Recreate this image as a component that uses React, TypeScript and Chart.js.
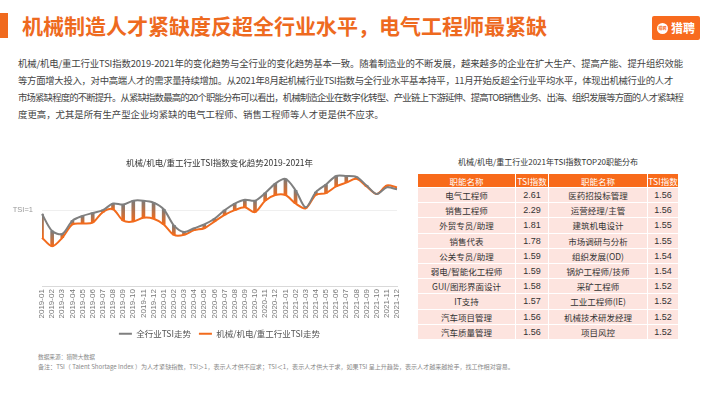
import React, { useEffect, useLayoutEffect, useRef } from "react";
import { Chart, registerables } from "chart.js";

Chart.register(...registerables);

const months: string[] = [
  "2019-01","2019-02","2019-03","2019-04","2019-05","2019-06","2019-07","2019-08","2019-09","2019-10","2019-11","2019-12",
  "2020-01","2020-02","2020-03","2020-04","2020-05","2020-06","2020-07","2020-08","2020-09","2020-10","2020-11","2020-12",
  "2021-01","2021-02","2021-03","2021-04","2021-05","2021-06","2021-07","2021-08","2021-09","2021-10","2021-11","2021-12",
];

const allIndustryTSI: number[] = [
  0.96, 0.78, 0.75, 0.89, 0.94, 0.97, 1.0, 1.07, 1.06, 1.1, 1.1, 1.08,
  1.01, 0.84, 0.77, 0.81, 0.85, 0.91, 1.0, 1.07, 1.11, 1.1, 1.18, 1.28,
  1.33, 1.21, 1.03, 1.19, 1.27, 1.36, 1.36, 1.35, 1.26, 1.17, 1.24, 1.22,
];

const machineryTSI: number[] = [
  0.71, 0.62, 0.71, 0.85, 0.86, 0.87, 0.98, 1.01, 0.89, 0.88, 0.92, 0.91,
  0.85, 0.74, 0.74, 0.79, 0.81, 0.88, 0.95, 1.0, 1.03, 0.98, 1.1, 1.16,
  1.16, 1.07, 1.02, 1.16, 1.18, 1.25, 1.29, 1.33, 1.25, 1.17, 1.26, 1.24,
];

const seriesNames: string[] = ["全行业TSI走势", "机械/机电/重工行业TSI走势"];
const yTickValues: number[] = [1];
const yTickLabels: string[] = ["TSI=1"];

const tableHeaders: string[] = ["职能名称", "TSI指数", "职能名称", "TSI指数"];
const leftRoles: string[] = ["电气工程师", "销售工程师", "外贸专员/助理", "销售代表", "公关专员/助理", "弱电/智能化工程师", "GUI/图形界面设计", "IT支持", "汽车项目管理", "汽车质量管理"];
const leftTSI: string[] = ["2.61", "2.29", "1.81", "1.78", "1.59", "1.59", "1.58", "1.57", "1.56", "1.56"];
const rightRoles: string[] = ["医药招投标管理", "运营经理/主管", "建筑机电设计", "市场调研与分析", "组织发展(OD)", "锅炉工程师/技师", "采矿工程师", "工业工程师(IE)", "机械技术研发经理", "项目风控"];
const rightTSI: string[] = ["1.56", "1.56", "1.55", "1.55", "1.54", "1.54", "1.52", "1.52", "1.52", "1.52"];

const paragraphLines: string[] = [
  "机械/机电/重工行业TSI指数2019-2021年的变化趋势与全行业的变化趋势基本一致。随着制造业的不断发展，越来越多的企业在扩大生产、提高产能、提升组织效能",
  "等方面增大投入，对中高端人才的需求量持续增加。从2021年8月起机械行业TSI指数与全行业水平基本持平，11月开始反超全行业平均水平，体现出机械行业的人才",
  "市场紧缺程度的不断提升。从紧缺指数最高的20个职能分布可以看出，机械制造企业在数字化转型、产业链上下游延伸、提高TOB销售业务、出海、组织发展等方面的人才紧缺程",
  "度更高，尤其是所有生产型企业均紧缺的电气工程师、销售工程师等人才更是供不应求。",
];
const sourceText = "数据来源：猎聘大数据";
const noteText =
  "备注：TSI（ Talent Shortage Index ）为人才紧缺指数，TSI＞1，表示人才供不应求；TSI＜1，表示人才供大于求，如果TSI 呈上升趋势，表示人才越来越抢手，找工作相对容易。";

const GREY = "#7f7f7f";
const ORANGE = "#f26b1d";
const CJK = '"Noto Sans CJK SC", "Liberation Sans", sans-serif';

function FitText(props: { text: string; target: number; mode: "spacing" | "size"; style?: React.CSSProperties }) {
  const ref = useRef<HTMLSpanElement | null>(null);
  useLayoutEffect(() => {
    const el = ref.current;
    if (!el || !props.target) return;
    el.style.letterSpacing = "0px";
    const w = el.getBoundingClientRect().width;
    if (!w) return;
    if (props.mode === "spacing") {
      const n = Array.from(props.text).length;
      el.style.letterSpacing = (props.target - w) / n + "px";
    } else {
      const fs = parseFloat(getComputedStyle(el).fontSize);
      el.style.fontSize = (fs * props.target) / w + "px";
    }
  }, [props.text, props.target, props.mode]);
  return (
    <span ref={ref} style={{ display: "inline-block", whiteSpace: "nowrap", ...props.style }}>
      {props.text}
    </span>
  );
}

function TrendChart() {
  const ref = useRef<HTMLCanvasElement | null>(null);
  useEffect(() => {
    if (!ref.current) return;
    const ranges = months.map((_, i) => [machineryTSI[i], allIndustryTSI[i]]);
    const chart = new Chart(ref.current, {
      type: "line",
      data: {
        labels: months,
        datasets: [
          {
            type: "line",
            label: seriesNames[0],
            data: allIndustryTSI,
            borderColor: GREY,
            backgroundColor: GREY,
            borderWidth: 2,
            pointRadius: 0,
            tension: 0.3,
            order: 0,
          },
          {
            type: "line",
            label: seriesNames[1],
            data: machineryTSI,
            borderColor: ORANGE,
            backgroundColor: ORANGE,
            borderWidth: 2,
            pointRadius: 0,
            tension: 0.3,
            order: 1,
          },
          {
            type: "bar",
            label: "diff",
            data: ranges as any,
            barThickness: 3,
            borderWidth: 0,
            order: 2,
            backgroundColor: (ctx: any) => {
              const c = ctx.chart;
              if (!c.chartArea || ctx.type !== "data") return "#b07050";
              const v = ranges[ctx.dataIndex];
              const y = c.scales.y;
              const top = y.getPixelForValue(Math.max(v[0], v[1]));
              const bot = y.getPixelForValue(Math.min(v[0], v[1]));
              if (!isFinite(top) || !isFinite(bot) || bot - top < 0.5) return "#b07050";
              const g = c.ctx.createLinearGradient(0, top, 0, bot);
              g.addColorStop(0, "#7a7a7a");
              g.addColorStop(1, "#f36a18");
              return g;
            },
          } as any,
        ],
      },
      options: {
        animation: false,
        responsive: false,
        devicePixelRatio: 1,
        layout: { padding: { right: 13, top: 0, bottom: 0, left: 0 } },
        plugins: {
          title: {
            display: true,
            text: "机械/机电/重工行业TSI指数变化趋势2019-2021年",
            color: "#333",
            font: { family: CJK, size: 8.5, weight: "normal", lineHeight: 1.2 },
            padding: { top: 8, bottom: 4 },
            fullSize: false,
          },
          legend: {
            display: true,
            position: "bottom",
            fullSize: false,
            labels: {
              usePointStyle: true,
              pointStyle: "line",
              pointStyleWidth: 13,
              boxHeight: 8,
              padding: 8,
              color: "#555",
              font: { family: CJK, size: 8.5 },
              filter: (item: any) => item.datasetIndex !== 2,
            },
          },
          tooltip: { enabled: false },
        },
        scales: {
          x: {
            type: "category",
            offset: false,
            grid: { display: false, drawTicks: false },
            border: { display: true, color: "#d9d9d9", width: 1 },
            ticks: {
              autoSkip: false,
              maxRotation: 90,
              minRotation: 90,
              padding: 3,
              color: "#777",
              font: { family: '"Liberation Sans", sans-serif', size: 8 },
            },
          },
          y: {
            min: 0.2,
            max: 1.4,
            afterBuildTicks: (scale: any) => {
              scale.ticks = yTickValues.map((v) => ({ value: v }));
            },
            afterFit: (scale: any) => {
              scale.width = 42;
            },
            grid: { color: "#efefef", drawTicks: false, lineWidth: 1 },
            border: { display: false },
            ticks: {
              padding: 9,
              color: "#999",
              font: { family: '"Liberation Sans", sans-serif', size: 7.5 },
              callback: (v: any) => {
                const idx = yTickValues.indexOf(Number(v));
                return idx >= 0 ? yTickLabels[idx] : "";
              },
            },
          },
        },
      },
    });
    return () => chart.destroy();
  }, []);
  return (
    <canvas
      ref={ref}
      width={410}
      height={198}
      style={{ position: "absolute", left: 0, top: 150, width: 410, height: 198 }}
    />
  );
}

function TopTable() {
  const colW = [98, 33, 99, 31];
  const cellBase: React.CSSProperties = {
    border: "1px solid #fff",
    padding: 0,
    textAlign: "center",
    whiteSpace: "nowrap",
    overflow: "hidden",
  };
  const body: React.CSSProperties = { ...cellBase, background: "#fde4df", color: "#333", fontSize: 8.5, lineHeight: "14px" };
  const num: React.CSSProperties = { ...body, fontSize: 9, fontFamily: '"Liberation Sans", sans-serif' };
  return (
    <table
      style={{
        position: "absolute",
        left: 417,
        top: 173,
        width: 262,
        borderCollapse: "collapse",
        tableLayout: "fixed",
        fontFamily: CJK,
      }}
    >
      <colgroup>
        {colW.map((w, i) => (
          <col key={i} style={{ width: w }} />
        ))}
      </colgroup>
      <thead>
        <tr style={{ height: 13 }}>
          {tableHeaders.map((h, i) => (
            <th
              key={i}
              style={{
                ...cellBase,
                background: "#f86a1a",
                color: "#fff",
                fontWeight: "normal",
                fontSize: 8.5,
                lineHeight: "12px",
                height: 13,
              }}
            >
              {h}
            </th>
          ))}
        </tr>
      </thead>
      <tbody>
        {leftRoles.map((r, i) => (
          <tr key={i} style={{ height: 15.2 }}>
            <td style={body}>{r}</td>
            <td style={num}>{leftTSI[i]}</td>
            <td style={body}>{rightRoles[i]}</td>
            <td style={num}>{rightTSI[i]}</td>
          </tr>
        ))}
      </tbody>
    </table>
  );
}

const lineTargets: number[] = [665, 655, 665, 0];

export default function App() {
  return (
    <div
      style={{
        position: "absolute",
        left: 0,
        top: 0,
        width: 710,
        height: 399,
        overflow: "hidden",
        background: "#fff",
        fontFamily: CJK,
      }}
    >
      <div style={{ position: "absolute", left: 0, top: 13, width: 8, height: 25, background: "#f06a1e" }} />
      <div
        style={{
          position: "absolute",
          left: 22,
          top: 11,
          fontSize: 21,
          lineHeight: "28px",
          fontWeight: "bold",
          color: "#ee6a1f",
          whiteSpace: "nowrap",
        }}
      >
        机械制造人才紧缺度反超全行业水平，电气工程师最紧缺
      </div>
      <div
        style={{
          position: "absolute",
          left: 652,
          top: 16,
          width: 48,
          height: 24,
          background: "#f86b1e",
          borderRadius: 2,
          display: "flex",
          alignItems: "center",
          justifyContent: "center",
          gap: 3,
        }}
      >
        <div
          style={{
            width: 11,
            height: 11,
            borderRadius: 6,
            background: "#fff",
            color: "#f86b1e",
            fontSize: 4,
            lineHeight: "11px",
            textAlign: "center",
            fontWeight: "bold",
          }}
        >
          猎聘
        </div>
        <div style={{ color: "#fff", fontSize: 12, fontWeight: "bold", lineHeight: "24px" }}>猎聘</div>
      </div>
      <div style={{ position: "absolute", left: 18, top: 55, fontSize: 9.4, lineHeight: "17px", color: "#444" }}>
        {paragraphLines.map((l, i) => (
          <div key={i} style={{ height: 17, whiteSpace: "nowrap" }}>
            <FitText text={l} target={lineTargets[i]} mode="spacing" />
          </div>
        ))}
      </div>
      <TrendChart />
      <div
        style={{
          position: "absolute",
          left: 417,
          top: 156,
          width: 262,
          textAlign: "center",
          fontSize: 8,
          lineHeight: "12px",
          color: "#333",
          whiteSpace: "nowrap",
        }}
      >
        机械/机电/重工行业2021年TSI指数TOP20职能分布
      </div>
      <TopTable />
      <div style={{ position: "absolute", left: 38, top: 352, fontSize: 6, lineHeight: "10px", color: "#888" }}>
        <FitText text={sourceText} target={57} mode="size" />
      </div>
      <div style={{ position: "absolute", left: 38, top: 362, fontSize: 6, lineHeight: "10px", color: "#888" }}>
        <FitText text={noteText} target={477} mode="size" />
      </div>
    </div>
  );
}
